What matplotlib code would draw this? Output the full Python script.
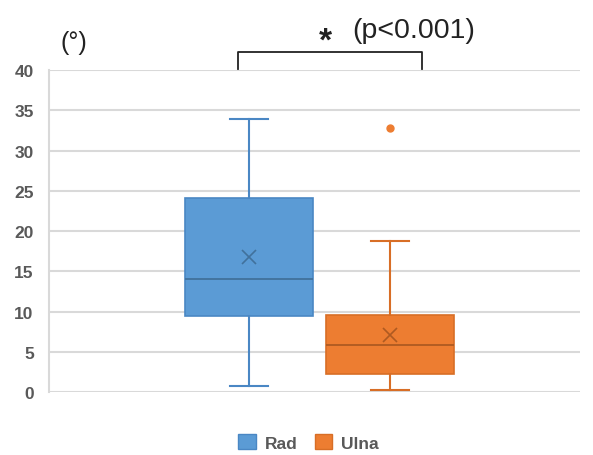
import matplotlib
matplotlib.use('Agg')
import matplotlib.pyplot as plt
from matplotlib.patches import Patch

# box statistics (degrees)
groups = ['Rad', 'Ulna']
q1 = [9.5, 2.2]
med = [14.0, 5.8]
q3 = [24.1, 9.6]
mean = [16.8, 7.1]
whislo = [0.7, 0.2]
whishi = [33.9, 18.8]
fliers = [[], [32.8]]
positions = [0.377, 0.642]

face = ['#5B9BD5', '#ED7D31']
edge = ['#4A87C4', '#D86E26']
dark = ['#41719C', '#AE5A21']

plt.rcParams['font.family'] = ['Liberation Sans', 'DejaVu Sans']

fig = plt.figure(figsize=(5.93, 4.56), dpi=100)
ax = fig.add_axes([0.0826, 0.138, 0.8954, 0.706])

for i in range(2):
    st = [dict(med=med[i], q1=q1[i], q3=q3[i], whislo=whislo[i], whishi=whishi[i],
               mean=mean[i], fliers=fliers[i], label=groups[i])]
    ax.bxp(st, positions=[positions[i]], widths=0.241, capwidths=0.072,
           patch_artist=True, showmeans=True,
           boxprops=dict(facecolor=face[i], edgecolor=edge[i], linewidth=1.2),
           medianprops=dict(color=dark[i], linewidth=1.3),
           whiskerprops=dict(color=edge[i], linewidth=1.5),
           capprops=dict(color=edge[i], linewidth=1.5),
           meanprops=dict(marker='x', markeredgecolor=dark[i], markersize=10, markeredgewidth=1.2),
           flierprops=dict(marker='o', markerfacecolor=face[i], markeredgecolor=face[i], markersize=5),
           zorder=3)

ax.set_xlim(0, 1)
ax.set_ylim(0, 40)
ax.set_yticks(range(0, 41, 5))
ax.set_xticks([])
ax.yaxis.grid(True, color='#D9D9D9', linewidth=1.5, zorder=0)
ax.set_axisbelow(True)
for s in ['top', 'right', 'bottom']:
    ax.spines[s].set_visible(False)
ax.spines['left'].set_color('#D9D9D9')
ax.spines['left'].set_linewidth(1.5)
ax.tick_params(axis='y', length=0, pad=11, labelsize=12.5, labelcolor='#595959')
for t in ax.get_yticklabels():
    t.set_fontweight('bold')

# unit label
ax.text(0.047, 43.5, '(°)', fontsize=18, color='#222222', ha='center', va='center', clip_on=False)

# significance bracket
bx0, bx1 = 0.356, 0.703
ax.plot([bx0, bx0, bx1, bx1], [40.1, 42.2, 42.2, 40.1], color='#222222', lw=1.3, clip_on=False)
ax.text(0.52, 43.6, '*', fontsize=24, fontweight='bold', ha='center', va='center',
        color='#222222', clip_on=False)
ax.text(0.571, 45.0, '(p<0.001)', fontsize=20.5, ha='left', va='center', color='#222222',
        clip_on=False)

# legend
handles = [Patch(facecolor=face[i], edgecolor=edge[i], label=groups[i]) for i in range(2)]
leg = fig.legend(handles=handles, loc='center', bbox_to_anchor=(0.520, 0.028), ncol=2,
                 frameon=False, handlelength=1.0, handleheight=1.0, handletextpad=0.5,
                 columnspacing=1.0, prop=dict(weight='bold', size=12.5))
for t in leg.get_texts():
    t.set_color('#595959')

fig.savefig('out.png', dpi=100)
